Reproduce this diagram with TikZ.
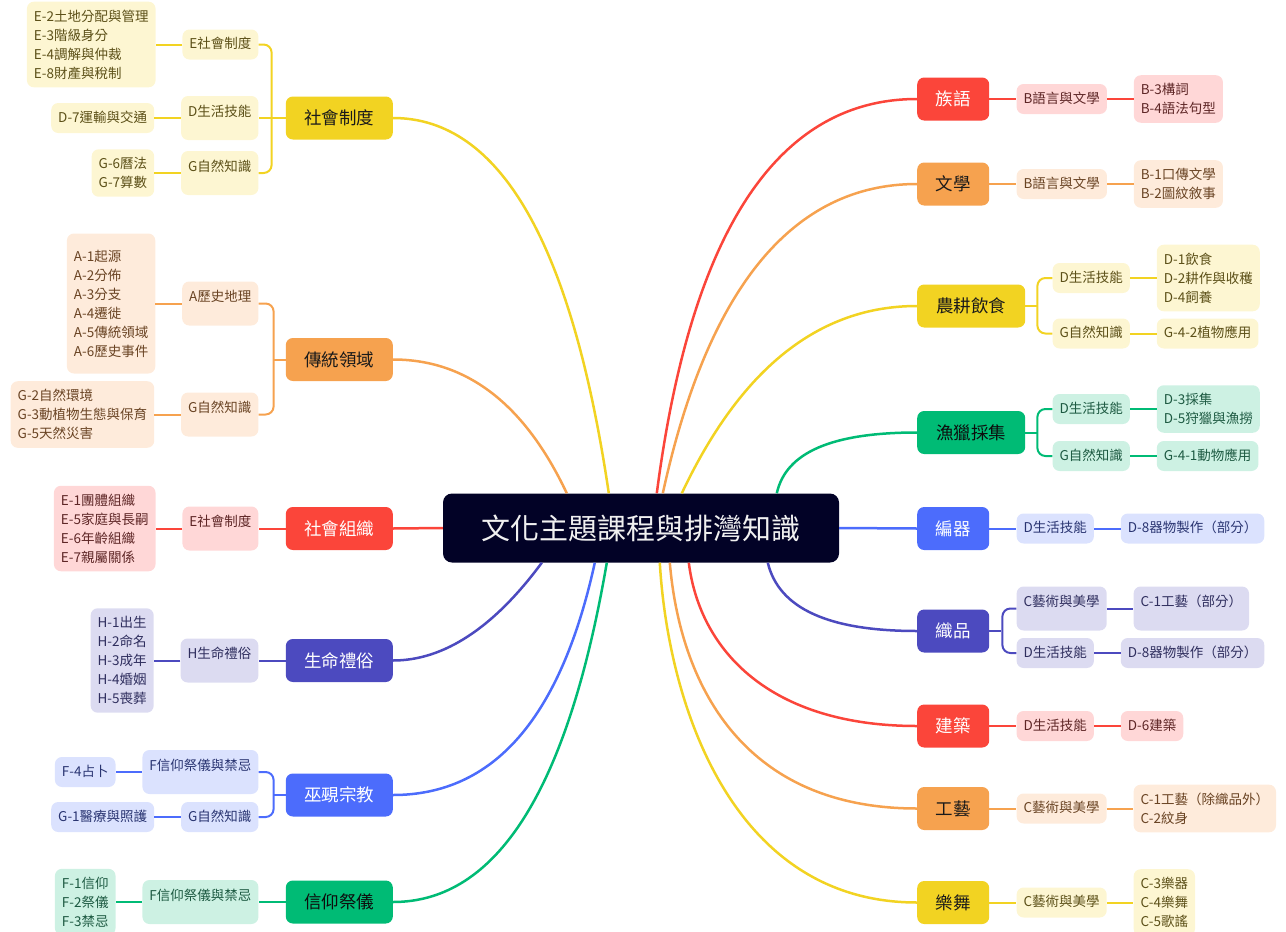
\documentclass[tikz,border=0pt]{standalone}
\usepackage{fontspec}
\setmainfont{Noto Sans CJK TC}
\usetikzlibrary{positioning,calc}

\definecolor{cRed}{HTML}{FB453A}
\definecolor{cRedL}{HTML}{FFD7D7}
\definecolor{cRedT}{HTML}{5E2626}
\definecolor{cRedX}{HTML}{FFFFFF}
\definecolor{cOrg}{HTML}{F6A24F}
\definecolor{cOrgL}{HTML}{FEEBDB}
\definecolor{cOrgT}{HTML}{6A4424}
\definecolor{cOrgX}{HTML}{1A1A1A}
\definecolor{cYel}{HTML}{F2D322}
\definecolor{cYelL}{HTML}{FDF6D2}
\definecolor{cYelT}{HTML}{5C5018}
\definecolor{cYelX}{HTML}{1A1A1A}
\definecolor{cGrn}{HTML}{00BB75}
\definecolor{cGrnL}{HTML}{CDF1E3}
\definecolor{cGrnT}{HTML}{1D5A42}
\definecolor{cGrnX}{HTML}{0D0D0D}
\definecolor{cBlu}{HTML}{4C6CFC}
\definecolor{cBluL}{HTML}{DBE2FE}
\definecolor{cBluT}{HTML}{2A3572}
\definecolor{cBluX}{HTML}{FFFFFF}
\definecolor{cInd}{HTML}{4C4ABF}
\definecolor{cIndL}{HTML}{DCDBF1}
\definecolor{cIndT}{HTML}{2F2E5E}
\definecolor{cIndX}{HTML}{FFFFFF}
\definecolor{cRoot}{HTML}{020226}

\tikzset{
  root/.style={fill=cRoot, text=white!94!black, rounded corners=9pt, minimum width=396pt, minimum height=69pt, font=\fontsize{29}{34}\selectfont},
  topic/.style={fill=c#1, text=c#1X, rounded corners=7pt, minimum width=107pt, minimum height=43pt, inner sep=0pt, font=\fontsize{17.5}{21}\selectfont},
  narrow/.style={minimum width=72pt},
  card/.style={fill=c#1L, text=c#1T, rounded corners=7pt, inner xsep=7pt, inner ysep=8pt, font=\fontsize{13.5}{19}\selectfont},
  sub/.style={card=#1, text height=11pt, text depth=3pt},
  tall/.style={text height=11pt, text depth=15pt, inner ysep=9pt},
  leaf/.style={card=#1, align=left},
  oneline/.style={text height=11pt, text depth=3pt},
  link/.style={draw=c#1, line width=2pt},
  curve/.style={draw=c#1, line width=2.5pt},
  node distance=26.5pt
}

\begin{document}
\begin{tikzpicture}[x=1pt,y=-1pt]
\useasboundingbox (0,0) rectangle (1286,932);

\node[root] (root) at (641,528) {文化主題課程與排灣知識};

% left topics
\node[topic=Yel, anchor=east] (tSoc) at (393,118) {社會制度};
\node[topic=Org, anchor=east] (tLand) at (393,359.5) {傳統領域};
\node[topic=Red, anchor=east] (tGrp) at (393,528.5) {社會組織};
\node[topic=Ind, anchor=east] (tLife) at (393,660.5) {生命禮俗};
\node[topic=Blu, anchor=east] (tSham) at (393,795) {巫覡宗教};
\node[topic=Grn, anchor=east] (tRite) at (393,902) {信仰祭儀};

% right topics
\node[topic=Red, narrow, anchor=west] (tLang) at (917,99) {族語};
\node[topic=Org, narrow, anchor=west] (tLit) at (917,184) {文學};
\node[topic=Yel, anchor=west, minimum width=108pt] (tFarm) at (917,306) {農耕飲食};
\node[topic=Grn, anchor=west, minimum width=108pt] (tHunt) at (917,432.5) {漁獵採集};
\node[topic=Blu, narrow, anchor=west] (tWeave) at (917,528.5) {編器};
\node[topic=Ind, narrow, anchor=west] (tCloth) at (917,631) {織品};
\node[topic=Red, narrow, anchor=west] (tBuild) at (917,726) {建築};
\node[topic=Org, narrow, anchor=west] (tCraft) at (917,808.5) {工藝};
\node[topic=Yel, narrow, anchor=west] (tMusic) at (917,902.5) {樂舞};

% 社會制度
\node[sub=Yel, left=27pt of tSoc, yshift=73.5pt] (sSocE) {E社會制度};
\node[sub=Yel, tall, left=27pt of tSoc] (sSocD) {D生活技能};
\node[sub=Yel, tall, left=27pt of tSoc, yshift=-55pt] (sSocG) {G自然知識};
\node[leaf=Yel, left=of sSocE] (lSocE) {E-2土地分配與管理\\E-3階級身分\\E-4調解與仲裁\\E-8財產與稅制};
\node[leaf=Yel, oneline, left=of sSocD] (lSocD) {D-7運輸與交通};
\node[leaf=Yel, left=of sSocG] (lSocG) {G-6曆法\\G-7算數};

% 傳統領域
\node[sub=Org, tall, left=27pt of tLand, yshift=56pt] (sLandA) {A歷史地理};
\node[sub=Org, tall, left=27pt of tLand, yshift=-55pt] (sLandG) {G自然知識};
\node[leaf=Org, minimum height=140pt, left=of sLandA] (lLandA) {A-1起源\\A-2分佈\\A-3分支\\A-4遷徙\\A-5傳統領域\\A-6歷史事件};
\node[leaf=Org, left=of sLandG] (lLandG) {G-2自然環境\\G-3動植物生態與保育\\G-5天然災害};

% 社會組織
\node[sub=Red, tall, left=27pt of tGrp] (sGrp) {E社會制度};
\node[leaf=Red, left=of sGrp] (lGrp) {E-1團體組織\\E-5家庭與長嗣\\E-6年齡組織\\E-7親屬關係};

% 生命禮俗
\node[sub=Ind, tall, left=27pt of tLife] (sLife) {H生命禮俗};
\node[leaf=Ind, left=of sLife] (lLife) {H-1出生\\H-2命名\\H-3成年\\H-4婚姻\\H-5喪葬};

% 巫覡宗教
\node[sub=Blu, tall, left=27pt of tSham, yshift=23pt] (sShamF) {F信仰祭儀與禁忌};
\node[sub=Blu, left=27pt of tSham, yshift=-22pt] (sShamG) {G自然知識};
\node[leaf=Blu, oneline, left=of sShamF] (lShamF) {F-4占卜};
\node[leaf=Blu, oneline, left=of sShamG] (lShamG) {G-1醫療與照護};

% 信仰祭儀
\node[sub=Grn, tall, left=27pt of tRite] (sRite) {F信仰祭儀與禁忌};
\node[leaf=Grn, left=of sRite] (lRite) {F-1信仰\\F-2祭儀\\F-3禁忌};

% 族語, 文學
\node[sub=Red, right=27pt of tLang] (rLang) {B語言與文學};
\node[leaf=Red, right=of rLang] (lLang) {B-3構詞\\B-4語法句型};
\node[sub=Org, right=27pt of tLit] (rLit) {B語言與文學};
\node[leaf=Org, right=of rLit] (lLit) {B-1口傳文學\\B-2圖紋敘事};

% 農耕飲食
\node[sub=Yel, right=27pt of tFarm, yshift=28pt] (rFarmD) {D生活技能};
\node[sub=Yel, right=27pt of tFarm, yshift=-27.5pt] (rFarmG) {G自然知識};
\node[leaf=Yel, right=of rFarmD] (lFarmD) {D-1飲食\\D-2耕作與收穫\\D-4飼養};
\node[leaf=Yel, oneline, right=of rFarmG] (lFarmG) {G-4-2植物應用};

% 漁獵採集
\node[sub=Grn, right=27pt of tHunt, yshift=23.5pt] (rHuntD) {D生活技能};
\node[sub=Grn, right=27pt of tHunt, yshift=-23.5pt] (rHuntG) {G自然知識};
\node[leaf=Grn, right=of rHuntD] (lHuntD) {D-3採集\\D-5狩獵與漁撈};
\node[leaf=Grn, oneline, right=of rHuntG] (lHuntG) {G-4-1動物應用};

% 編器, 織品
\node[sub=Blu, right=27pt of tWeave] (rWeave) {D生活技能};
\node[leaf=Blu, oneline, right=of rWeave] (lWeave) {D-8器物製作（部分）};
\node[sub=Ind, tall, right=27pt of tCloth, yshift=22.5pt] (rClothC) {C藝術與美學};
\node[sub=Ind, right=27pt of tCloth, yshift=-22pt] (rClothD) {D生活技能};
\node[leaf=Ind, oneline, tall, right=of rClothC] (lClothC) {C-1工藝（部分）};
\node[leaf=Ind, oneline, right=of rClothD] (lClothD) {D-8器物製作（部分）};

% 建築, 工藝, 樂舞
\node[sub=Red, right=27pt of tBuild] (rBuild) {D生活技能};
\node[leaf=Red, oneline, right=of rBuild] (lBuild) {D-6建築};
\node[sub=Org, right=27pt of tCraft] (rCraft) {C藝術與美學};
\node[leaf=Org, right=of rCraft] (lCraft) {C-1工藝（除織品外）\\C-2紋身};
\node[sub=Yel, right=27pt of tMusic] (rMusic) {C藝術與美學};
\node[leaf=Yel, right=of rMusic] (lMusic) {C-3樂器\\C-4樂舞\\C-5歌謠};

% main curves
\draw[curve=Yel] (tSoc.east) .. controls +(107,0) and +(-37,-250) .. ($(root.north west)+(166,0)$);
\draw[curve=Org] (tLand.east) .. controls +(74,0) and +(-42,-89) .. ($(root.north west)+(124,0)$);
\draw[curve=Red] (tGrp.east) -- (root.west);
\draw[curve=Ind] (tLife.east) .. controls +(51,0) and +(-48,65) .. ($(root.south west)+(99,0)$);
\draw[curve=Blu] (tSham.east) .. controls +(101,0) and +(-34,155) .. ($(root.south west)+(152,0)$);
\draw[curve=Grn] (tRite.east) .. controls +(104,0) and +(-39,227) .. ($(root.south west)+(164,0)$);
\draw[curve=Red] (tLang.west) .. controls +(-139,0) and +(34,-263) .. ($(root.north west)+(214,0)$);
\draw[curve=Org] (tLit.west) .. controls +(-124,0) and +(45,-206) .. ($(root.north west)+(220,0)$);
\draw[curve=Yel] (tFarm.west) .. controls +(-98,0) and +(59,-125) .. ($(root.north west)+(239,0)$);
\draw[curve=Grn] (tHunt.west) .. controls +(-85,0) and +(9,-41) .. ($(root.north west)+(334,0)$);
\draw[curve=Blu] (root.east) -- (tWeave.west);
\draw[curve=Ind] (tCloth.west) .. controls +(-88,0) and +(11,46) .. ($(root.south west)+(325,0)$);
\draw[curve=Red] (tBuild.west) .. controls +(-147,0) and +(11,88) .. ($(root.south west)+(246,0)$);
\draw[curve=Org] (tCraft.west) .. controls +(-177,0) and +(10,118) .. ($(root.south west)+(227,0)$);
\draw[curve=Yel] (tMusic.west) .. controls +(-187,0) and +(8,138) .. ($(root.south west)+(217,0)$);

% topic to sub
\draw[link=Yel, rounded corners=8pt] (sSocE.east) -- ++(13,0) |- (sSocG.east);
\draw[link=Yel] (tSoc.west) -- (sSocD.east);
\draw[link=Org, rounded corners=8pt] (sLandA.east) -- ++(15,0) |- (sLandG.east);
\draw[link=Org] (tLand.west) -- ++(-12,0);
\draw[link=Red] (tGrp.west) -- (sGrp.east);
\draw[link=Ind] (tLife.west) -- (sLife.east);
\draw[link=Blu, rounded corners=8pt] (sShamF.east) -- ++(15,0) |- (sShamG.east);
\draw[link=Blu] (tSham.west) -- ++(-12,0);
\draw[link=Grn] (tRite.west) -- (sRite.east);
\draw[link=Red] (tLang.east) -- (rLang.west);
\draw[link=Org] (tLit.east) -- (rLit.west);
\draw[link=Yel, rounded corners=8pt] (rFarmD.west) -- ++(-15,0) |- (rFarmG.west);
\draw[link=Yel] (tFarm.east) -- ++(12,0);
\draw[link=Grn, rounded corners=8pt] (rHuntD.west) -- ++(-15,0) |- (rHuntG.west);
\draw[link=Grn] (tHunt.east) -- ++(12,0);
\draw[link=Blu] (tWeave.east) -- (rWeave.west);
\draw[link=Ind, rounded corners=8pt] (rClothC.west) -- ++(-14,0) |- (rClothD.west);
\draw[link=Ind] (tCloth.east) -- ++(12,0);
\draw[link=Red] (tBuild.east) -- (rBuild.west);
\draw[link=Org] (tCraft.east) -- (rCraft.west);
\draw[link=Yel] (tMusic.east) -- (rMusic.west);

% sub to leaf
\draw[link=Yel] (sSocE.west) -- (lSocE.east);
\draw[link=Yel] (sSocD.west) -- (lSocD.east);
\draw[link=Yel] (sSocG.west) -- (lSocG.east);
\draw[link=Org] (sLandA.west) -- (lLandA.east);
\draw[link=Org] (sLandG.west) -- (lLandG.east);
\draw[link=Red] (sGrp.west) -- (lGrp.east);
\draw[link=Ind] (sLife.west) -- (lLife.east);
\draw[link=Blu] (sShamF.west) -- (lShamF.east);
\draw[link=Blu] (sShamG.west) -- (lShamG.east);
\draw[link=Grn] (sRite.west) -- (lRite.east);
\draw[link=Red] (rLang.east) -- (lLang.west);
\draw[link=Org] (rLit.east) -- (lLit.west);
\draw[link=Yel] (rFarmD.east) -- (lFarmD.west);
\draw[link=Yel] (rFarmG.east) -- (lFarmG.west);
\draw[link=Grn] (rHuntD.east) -- (lHuntD.west);
\draw[link=Grn] (rHuntG.east) -- (lHuntG.west);
\draw[link=Blu] (rWeave.east) -- (lWeave.west);
\draw[link=Ind] (rClothC.east) -- (lClothC.west);
\draw[link=Ind] (rClothD.east) -- (lClothD.west);
\draw[link=Red] (rBuild.east) -- (lBuild.west);
\draw[link=Org] (rCraft.east) -- (lCraft.west);
\draw[link=Yel] (rMusic.east) -- (lMusic.west);

\end{tikzpicture}
\end{document}
